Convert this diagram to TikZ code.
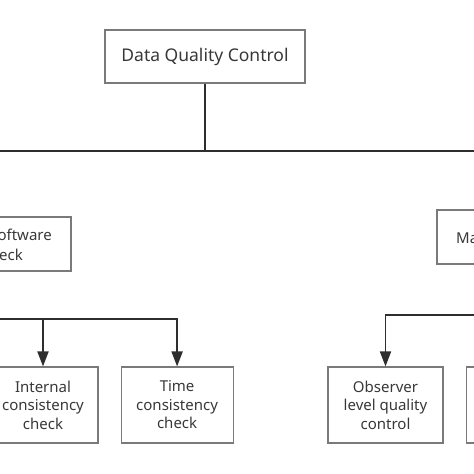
\documentclass[tikz,border=0pt]{standalone}
\usepackage{fontspec}
\setmainfont{Noto Sans}
\usetikzlibrary{arrows.meta,positioning}
\definecolor{boxgray}{HTML}{7A7A7A}
\definecolor{txtgray}{HTML}{383838}
\definecolor{linedark}{HTML}{2E2E2E}

\begin{document}
\begin{tikzpicture}[x=1pt,y=-1pt,>={Triangle[length=15pt,width=11pt]},
  box/.style={draw=boxgray,line width=1.1pt,align=center,inner sep=0pt,font=\fontsize{15}{18.5}\selectfont,text=txtgray},
  lbl/.style={inner sep=0pt,font=\fontsize{15}{18.5}\selectfont,text=txtgray},
  conn/.style={draw=linedark,line width=1.8pt},
  node distance=22pt]
\useasboundingbox (0,0) rectangle (474,474);
\clip (0,0) rectangle (474,474);
% top level
\node[box,minimum width=200pt,minimum height=53pt,font=\fontsize{17.5}{20}\selectfont] (dqc) at (205,56.5) {Data Quality Control};
\coordinate (barl) at (-10,151);
\coordinate (barr) at (484,151);
\draw[conn] (dqc.south) -- (dqc.south |- barl);
\draw[conn] (barl) -- (barr);
% second level
\node[box,minimum width=140pt,minimum height=54pt] (sw) at (1,244) {};
\node[lbl,anchor=east] (swa) at (52,235) {Software};
\node[lbl,anchor=east] (swb) at (23,255) {check};
\node[box,minimum width=140pt,minimum height=54pt] (man) at (507,237) {};
\node[lbl,anchor=west] (mana) at (456,238) {Manual check};
% third level
\node[box,minimum width=110pt,minimum height=76pt] (icc) at (43,405) {Internal\\consistency\\check};
\node[box,minimum width=112pt,minimum height=76pt,right=22pt of icc] (tcc) {Time\\consistency\\check};
\node[box,minimum width=115pt,minimum height=76pt] (obs) at (385.5,405) {Observer\\level quality\\control};
\node[box,minimum width=115pt,minimum height=76pt,right=22pt of obs] (nxt) {};
\coordinate (swl) at (-10,319);
\coordinate (manr) at (484,315);
\draw[conn,->] (swl) -| (tcc.north);
\draw[conn,->] (icc.north |- swl) -- (icc.north);
\draw[conn,->] (manr) -| (obs.north);
\end{tikzpicture}
\end{document}
